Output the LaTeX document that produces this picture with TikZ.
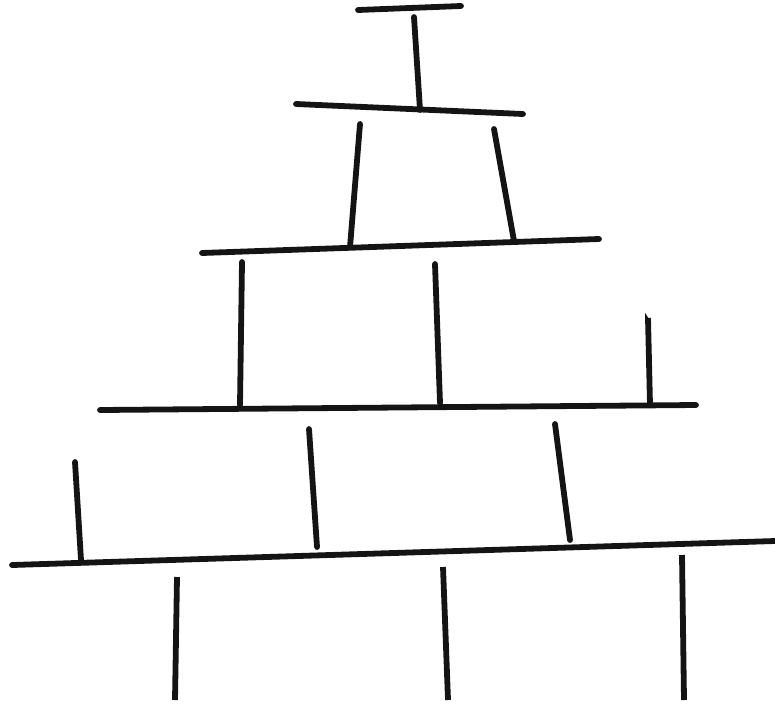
\documentclass[tikz,border=0pt]{standalone}
\begin{document}
\begin{tikzpicture}[x=1pt,y=-1pt,
  stroke/.style={line width=5.8pt,color=black!92,line cap=round}]
\useasboundingbox (0,0) rectangle (775,705);
% bars
\draw[stroke] (358,10) -- (461,6);
\draw[stroke] (296,104) -- (523,114);
\draw[stroke] (202,253) -- (599,239);
\draw[stroke] (100,410) -- (696,405);
\draw[stroke] (12,565) -- (775,541);
% verticals
\draw[stroke] (414,17) -- (420,110);
\draw[stroke] (360,124) -- (350,247);
\draw[stroke] (494,129) -- (514,241);
\draw[stroke] (242,262) -- (240,405);
\draw[stroke] (435,264) -- (440,403);
\draw[stroke,line cap=butt] (650,405) -- (648,318);
\fill[black!92] (645.1,318) -- (645.1,313) -- (650.9,322) -- (650.9,318) -- cycle;
\draw[stroke] (75,462) -- (81,560);
\draw[stroke] (309,429) -- (317,547);
\draw[stroke] (555,424) -- (570,540);
\draw[stroke,line cap=butt] (177,577) -- (175,700);
\draw[stroke,line cap=butt] (443,567) -- (448,700);
\draw[stroke,line cap=butt] (682,555) -- (684,700);
\end{tikzpicture}
\end{document}
